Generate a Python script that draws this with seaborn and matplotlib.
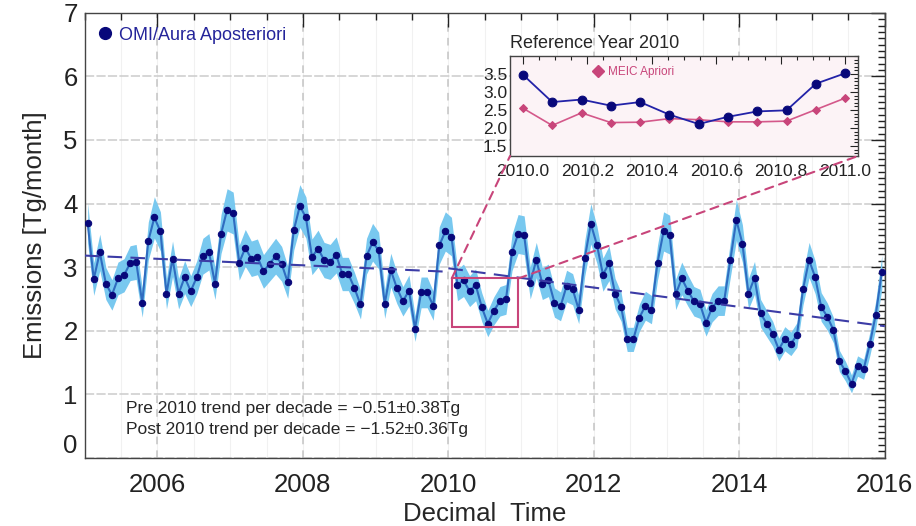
import numpy as np
import pandas as pd
import matplotlib
matplotlib.use("Agg")
import matplotlib.pyplot as plt
import seaborn as sns
from matplotlib.lines import Line2D
from matplotlib.patches import Rectangle, ConnectionPatch
from matplotlib.ticker import MultipleLocator, FixedLocator

# ---------------------------------------------------------------------------
# Data
# ---------------------------------------------------------------------------
start_year = 2005

# Monthly OMI/Aura a-posteriori emissions [Tg/month], Jan 2005 - Dec 2015
omi_2005 = [3.69, 2.81, 3.23, 2.74, 2.56, 2.82, 2.87, 3.06, 3.08, 2.44, 3.41, 3.78]
omi_2006 = [3.56, 2.58, 3.13, 2.58, 2.84, 2.62, 2.84, 3.17, 3.24, 2.74, 3.52, 3.90]
omi_2007 = [3.85, 3.07, 3.30, 3.13, 3.16, 2.93, 3.05, 3.17, 3.05, 2.76, 3.58, 3.96]
omi_2008 = [3.78, 3.16, 3.29, 3.11, 3.08, 3.19, 2.89, 2.89, 2.67, 2.41, 3.17, 3.39]
omi_2009 = [3.26, 2.42, 2.95, 2.67, 2.46, 2.63, 2.03, 2.60, 2.60, 2.39, 3.34, 3.56]
omi_2010 = [3.48, 2.72, 2.79, 2.62, 2.72, 2.37, 2.11, 2.31, 2.46, 2.49, 3.23, 3.52]
omi_2011 = [3.50, 2.75, 3.11, 2.74, 2.79, 2.44, 2.38, 2.70, 2.65, 2.33, 3.14, 3.68]
omi_2012 = [3.35, 2.88, 3.06, 2.58, 2.37, 1.86, 1.86, 2.20, 2.39, 2.33, 3.07, 3.56]
omi_2013 = [3.51, 2.57, 2.82, 2.63, 2.46, 2.42, 2.12, 2.36, 2.47, 2.47, 3.11, 3.74]
omi_2014 = [3.37, 2.58, 2.83, 2.27, 2.11, 1.95, 1.70, 1.87, 1.79, 1.93, 2.65, 3.11]
omi_2015 = [2.84, 2.37, 2.22, 2.01, 1.52, 1.36, 1.16, 1.44, 1.39, 1.78, 2.25, 2.92]

omi_emissions = (omi_2005 + omi_2006 + omi_2007 + omi_2008 + omi_2009 + omi_2010
                 + omi_2011 + omi_2012 + omi_2013 + omi_2014 + omi_2015)

# Uncertainty model for the retrieval envelope: floor + relative part
err_floor = 0.06
err_relative = 0.07

# MEIC a-priori inventory for the reference year 2010 [Tg/month]
meic_2010 = [2.55, 2.07, 2.42, 2.15, 2.16, 2.26, 2.23, 2.17, 2.17, 2.19, 2.51, 2.83]

# Piecewise linear trends (per decade) and their anchor values
trend_pre_per_decade = -0.51
trend_post_per_decade = -1.52
trend_pre_start = 3.18    # value at 2005.0
trend_post_start = 2.98   # value at 2010.0

x_tick_labels = ["2006", "2008", "2010", "2012", "2014", "2016"]
y_tick_labels = ["0", "1", "2", "3", "4", "5", "6", "7"]
inset_x_labels = ["2010.0", "2010.2", "2010.4", "2010.6", "2010.8", "2011.0"]
inset_y_labels = ["1.5", "2.0", "2.5", "3.0", "3.5"]

# Zoom box around the reference year on the main panel
zoom_box_x = (2010.046, 2010.962)
zoom_box_y = (2.06, 2.82)

# ---------------------------------------------------------------------------
# Style
# ---------------------------------------------------------------------------
sns.set_style("white")
plt.rcParams["font.family"] = ["Liberation Sans", "DejaVu Sans"]
plt.rcParams["axes.unicode_minus"] = True

navy = "#08087a"
line_blue = "#2f6cc0"
band_blue = "#78c8ef"
trend_blue = "#3c3ca6"
pink = "#c8457a"
legend_blue = "#24249a"
grid_grey = "#cccccc"
spine_grey = "#444444"

fig = plt.figure(figsize=(9.16, 5.26), dpi=100)
ax = fig.add_axes([0.0924, 0.1302, 0.8736, 0.8451])

months = np.arange(len(omi_emissions))
time = start_year + (months + 0.5) / 12.0
vals = np.asarray(omi_emissions)
err = err_floor + err_relative * vals

df = pd.DataFrame({"time": time, "emis": vals,
                   "lo": vals - err, "hi": vals + err})

# Background grid
for x in np.arange(2005.5, 2016, 0.5):
    ax.axvline(x, color="#f1f1f1", lw=0.8, zorder=0)
ax.grid(which="major", axis="y", color=grid_grey, ls=(0, (6, 1.5)), lw=1.1, zorder=0)
ax.grid(which="major", axis="x", color="#c4c4c4", ls=(0, (5, 4)), lw=1.1, zorder=0)

# Uncertainty envelope, series, and trends
ax.fill_between(df["time"], df["lo"], df["hi"], color=band_blue, lw=0, zorder=1)
sns.lineplot(data=df, x="time", y="emis", ax=ax, color=line_blue, lw=1.5,
             marker="o", markersize=4.6, markerfacecolor=navy,
             markeredgecolor=navy, estimator=None, sort=False, zorder=3)

pre = pd.DataFrame({"time": [2005.0, 2010.0],
                    "v": [trend_pre_start,
                          trend_pre_start + trend_pre_per_decade * 0.5]})
post = pd.DataFrame({"time": [2010.0, 2016.0],
                     "v": [trend_post_start,
                           trend_post_start + trend_post_per_decade * 0.6]})
for seg in (pre, post):
    sns.lineplot(data=seg, x="time", y="v", ax=ax, color=trend_blue, lw=1.5,
                 linestyle=(0, (7, 4)), estimator=None, zorder=4)

ax.add_patch(Rectangle((zoom_box_x[0], zoom_box_y[0]),
                       zoom_box_x[1] - zoom_box_x[0],
                       zoom_box_y[1] - zoom_box_y[0],
                       fill=False, ec=pink, lw=1.5, zorder=5))

ax.set_xlim(2005, 2016)
ax.set_ylim(0, 7)
ax.xaxis.set_major_locator(FixedLocator([int(s) for s in x_tick_labels]))
ax.set_xticklabels(x_tick_labels)
ax.xaxis.set_minor_locator(MultipleLocator(0.5))
ax.yaxis.set_major_locator(FixedLocator([int(s) for s in y_tick_labels]))
ax.set_yticklabels(y_tick_labels)
ax.yaxis.set_minor_locator(MultipleLocator(0.1))
ax.tick_params(which="both", direction="in", top=True, right=True,
               colors="#222222", width=1.0)
ax.tick_params(which="major", length=10, labelsize=18.5)
ax.tick_params(which="minor", length=5)
ax.tick_params(axis="x", which="major", pad=11)
ax.tick_params(axis="y", which="major", pad=5)
for sp in ax.spines.values():
    sp.set_color(spine_grey)
    sp.set_linewidth(1.0)
# keep the "0" label clear of the x axis
ax.get_yticklabels()[0].set_verticalalignment("bottom")

ax.set_xlabel("Decimal  Time", fontsize=18.5, labelpad=4)
ax.set_ylabel("Emissions [Tg/month]", fontsize=18.5, labelpad=12)

ax.legend(handles=[Line2D([0], [0], marker="o", ls="", color=navy, ms=8.5)],
          labels=["OMI/Aura Aposteriori"], loc="upper left",
          frameon=False, fontsize=13, handletextpad=0.35, handlelength=0.8,
          borderaxespad=0.35, labelcolor=legend_blue)

ax.text(0.0517, 0.1107,
        f"Pre 2010 trend per decade = \u2212{abs(trend_pre_per_decade):.2f}\u00b10.38Tg",
        transform=ax.transAxes, fontsize=12.5, va="center", ha="left")
ax.text(0.0517, 0.0619,
        f"Post 2010 trend per decade = \u2212{abs(trend_post_per_decade):.2f}\u00b10.36Tg",
        transform=ax.transAxes, fontsize=12.5, va="center", ha="left")

# ---------------------------------------------------------------------------
# Inset: reference year 2010
# ---------------------------------------------------------------------------
axin = fig.add_axes([0.5568, 0.7034, 0.3799, 0.1901], facecolor="#fcf3f6")
inset_time = np.linspace(2010.0, 2011.0, len(meic_2010))
inset_df = pd.DataFrame({"time": inset_time, "omi": omi_2010, "meic": meic_2010})

sns.lineplot(data=inset_df, x="time", y="omi", ax=axin, color="#2222a8", lw=1.3,
             marker="o", markersize=6.3, markerfacecolor=navy,
             markeredgecolor=navy, estimator=None, zorder=3)
sns.lineplot(data=inset_df, x="time", y="meic", ax=axin, color="#d4588a", lw=1.2,
             marker="D", markersize=4.2, markerfacecolor=pink,
             markeredgecolor=pink, estimator=None, zorder=2)

axin.set_xlim(2009.96, 2011.04)
axin.set_ylim(1.22, 4.0)
axin.xaxis.set_major_locator(FixedLocator([float(s) for s in inset_x_labels]))
axin.set_xticklabels(inset_x_labels)
axin.xaxis.set_minor_locator(MultipleLocator(0.05))
axin.yaxis.set_major_locator(FixedLocator([float(s) for s in inset_y_labels]))
axin.set_yticklabels(inset_y_labels)
axin.yaxis.set_minor_locator(MultipleLocator(0.1))
axin.tick_params(which="both", direction="in", top=True, right=True,
                 colors="#222222", width=0.8)
axin.tick_params(which="major", length=6, labelsize=12.5)
axin.tick_params(which="minor", length=3)
axin.tick_params(axis="x", which="major", pad=6)
axin.tick_params(axis="y", which="major", pad=2)
axin.set_xlabel("")
axin.set_ylabel("")
for sp in axin.spines.values():
    sp.set_color(spine_grey)
    sp.set_linewidth(1.0)
axin.set_title("Reference Year 2010", loc="left", fontsize=13, pad=6)

axin.legend(handles=[Line2D([0], [0], marker="D", ls="", color=pink, ms=6)],
            labels=["MEIC Apriori"], loc="center left",
            bbox_to_anchor=(0.24, 0.84), frameon=False, fontsize=8.5,
            handletextpad=0.4, handlelength=0.8, labelcolor=pink,
            borderaxespad=0, borderpad=0)

# Connectors from the zoom box to the inset
for box_x, corner in ((zoom_box_x[0], (0, 0)), (zoom_box_x[1], (1, 0))):
    cp = ConnectionPatch(xyA=(box_x, zoom_box_y[1]), coordsA=ax.transData,
                         xyB=corner, coordsB=axin.transAxes,
                         color=pink, lw=1.5, ls=(0, (4, 3)), zorder=10)
    fig.add_artist(cp)

fig.savefig("out.png", dpi=100)
